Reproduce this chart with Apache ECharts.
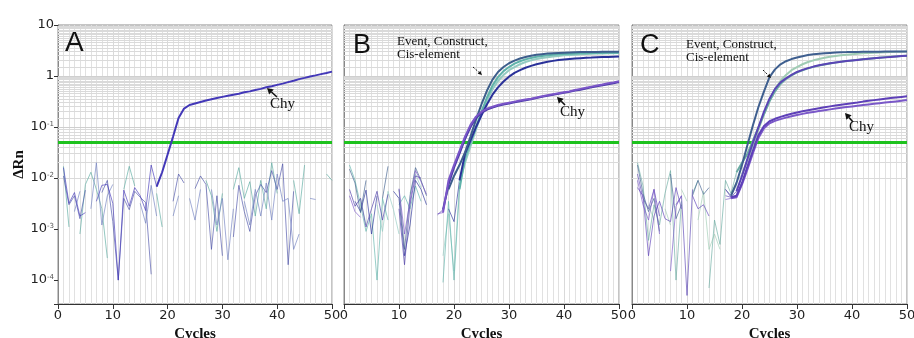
<!DOCTYPE html>
<html><head><meta charset="utf-8">
<script src="https://cdn.jsdelivr.net/npm/echarts@6/dist/echarts.min.js"></script>
<style>html,body{margin:0;padding:0;background:#fff}#c{width:914px;height:338px}</style>
</head><body><div id="c"></div>
<script>
// ---------- data ----------
const CYCLES = Array.from({length: 50}, (_, i) => i + 1);
const X_TICKS = [0, 10, 20, 30, 40, 50];
const Y_MIN = 3.4e-5, Y_MAX = 10;
const THRESHOLD = 0.048;
const PANEL_LABELS = ['A', 'B', 'C'];

// Panel A
const A_CHY = [0.016,0.0032,0.0052,0.0018,0.0021,null,0.0035,0.0072,0.0075,0.0032,
  0.0001,0.0058,0.0028,0.0065,0.0045,0.0023,0.018,0.0068,0.013,0.029,
  0.065,0.15,0.23,0.27,0.29,0.31,0.33,0.35,0.37,0.39,
  0.41,0.43,0.45,0.48,0.5,0.53,0.56,0.6,0.63,0.67,
  0.71,0.76,0.81,0.87,0.92,0.98,1.03,1.09,1.15,1.22];
const A_NEG1 = [0.017,0.0011,null,0.0008,0.0075,0.013,0.006,0.0025,0.00027,null,
  null,0.006,0.017,0.007,null,null,null,0.005,0.0011,null,
  null,null,null,null,0.0012,null,0.009,0.0045,0.0009,0.005,
  null,0.006,0.016,0.004,0.0085,0.0018,0.009,0.0025,0.02,0.005,
  null,null,0.009,0.002,0.018,null,null,null,0.012,0.009];
const A_NEG2 = [0.011,0.003,0.0045,0.0016,0.0058,null,null,0.0052,0.009,0.0014,
  0.0001,0.004,0.0024,0.0055,0.0042,0.0033,0.00013,null,null,null,
  0.0035,0.012,0.008,null,0.0062,0.011,0.0075,0.0004,0.0045,0.0003,
  null,0.0007,0.0072,0.0022,0.0009,0.0045,0.0075,0.0052,0.014,0.006,
  0.019,0.0002,0.0055,null,null,null,0.0016,null,null,null];
const A_NEG3 = [null,null,0.0022,0.0055,null,0.0025,0.02,0.0012,0.0045,0.0075,
  null,null,null,null,0.0032,0.0013,0.0072,0.0018,null,null,
  0.0018,0.0045,null,0.004,0.0015,0.006,null,0.006,0.0012,0.004,
  0.00025,0.0025,null,0.0035,0.0012,0.006,0.0018,0.008,0.0015,0.012,
  0.0035,0.004,0.0004,0.0008,null,0.004,0.0038,null,null,null];

// Panel B
const B_S1 = [0.015,0.008,0.0021,0.009,null,null,0.004,0.017,null,0.006,
  0.0004,0.0045,0.016,0.009,0.0045,null,null,
  0.0025,0.006,0.011,0.018,0.032,0.065,0.14,0.28,0.52,0.85,1.2,1.5,1.78,
  2.0,2.2,2.36,2.5,2.6,2.68,2.75,2.8,2.84,2.87,2.9,2.92,2.94,2.95,2.96,2.97,2.98,2.99,3.0,3.0];
const B_S2 = [0.018,0.009,0.003,0.0009,0.002,0.0001,0.004,0.0015,null,0.003,
  0.0045,0.0025,0.007,0.0035,null,null,null,0.00009,0.0035,0.0001,0.006,
  0.025,0.05,0.1,0.2,0.38,0.65,0.95,1.25,1.5,1.75,1.95,2.12,2.26,2.38,2.48,2.56,2.62,2.67,2.71,
  2.74,2.76,2.78,2.8,2.82,2.83,2.84,2.85,2.86,2.87];
const B_S3 = [null,0.0035,0.0022,0.0058,0.0008,0.0045,null,null,0.0055,0.004,
  0.0003,0.0012,0.009,0.006,0.003,null,null,null,0.0025,0.0014,0.009,
  0.03,0.055,0.1,0.17,0.28,0.43,0.6,0.78,0.97,1.15,1.3,1.45,1.58,1.7,1.8,1.9,1.98,2.05,2.1,
  2.15,2.2,2.24,2.28,2.3,2.33,2.35,2.37,2.39,2.4];
const B_S4 = [0.0045,null,0.004,0.0012,null,0.003,0.0009,0.0055,0.0024,0.0008,
  null,0.005,0.012,0.0065,null,null,null,0.0003,0.002,0.00015,0.008,
  0.02,0.042,0.09,0.18,0.33,0.55,0.8,1.05,1.3,1.5,1.7,1.88,2.03,2.15,2.25,2.34,2.42,2.48,2.54,
  2.58,2.62,2.66,2.69,2.72,2.75,2.77,2.79,2.81,2.83];
const B_CHY1 = [0.0045,0.0022,0.0017,null,null,null,null,null,null,0.0062,
  0.0008,0.0035,0.014,0.0085,0.0048,null,
  0.002,0.0021,0.009,0.018,0.034,0.065,0.11,0.16,0.2,0.23,0.25,0.27,0.285,0.3,
  0.315,0.33,0.345,0.36,0.38,0.4,0.42,0.44,0.46,0.48,0.5,0.53,0.56,0.59,0.62,0.65,0.68,0.72,0.75,0.79];
const B_CHY2 = [0.006,0.0028,0.004,0.0011,0.0025,0.0055,0.0015,0.0048,null,0.0025,
  0.0002,0.003,0.011,0.01,null,null,
  0.0019,0.0024,0.0075,0.016,0.03,0.058,0.1,0.15,0.19,0.22,0.24,0.26,0.275,0.29,
  0.305,0.32,0.335,0.35,0.37,0.39,0.41,0.43,0.45,0.47,0.49,0.52,0.54,0.57,0.6,0.63,0.66,0.69,0.72,0.76];

// Panel C
const C_S1 = [0.018,0.005,0.0022,0.004,0.0009,null,0.012,0.0016,0.003,null,
  0.0045,0.009,0.0048,0.0065,null,null,0.006,0.0045,
  0.008,0.018,0.045,0.11,0.25,0.5,0.95,1.35,1.7,1.95,2.15,2.3,2.45,2.57,2.66,2.73,2.79,2.84,
  2.88,2.91,2.94,2.96,2.97,2.98,2.99,3.0,3.0,3.01,3.01,3.02,3.02,3.02];
const C_S2 = [0.012,0.004,0.0025,0.006,0.0018,null,null,0.003,0.0045,0.00005,
  0.006,null,null,null,null,null,0.0045,0.0042,0.0055,
  0.011,0.024,0.05,0.1,0.2,0.36,0.56,0.75,0.9,1.05,1.2,1.32,1.43,1.53,1.62,1.7,1.78,1.85,1.91,1.97,
  2.02,2.07,2.12,2.17,2.22,2.27,2.32,2.37,2.42,2.46,2.5];
const C_S3 = [0.02,0.007,0.0006,0.003,0.0012,0.005,0.014,0.0001,0.0035,null,
  0.005,0.009,null,0.00007,0.0015,0.0005,0.009,0.005,0.013,
  0.02,0.03,0.055,0.1,0.18,0.32,0.5,0.7,0.88,1.03,1.18,1.3,1.41,1.51,1.6,1.68,1.76,1.83,1.9,1.96,
  2.02,2.08,2.13,2.18,2.23,2.28,2.33,2.38,2.42,2.46,2.5];
const C_S4 = [0.008,null,0.003,0.0015,null,0.0025,0.0012,null,0.006,0.0035,
  null,0.0015,0.0055,0.0004,0.0008,0.0004,null,0.005,0.0085,0.012,
  0.022,0.045,0.09,0.18,0.33,0.55,0.8,1.05,1.3,1.5,1.7,1.88,2.03,2.16,2.28,2.38,2.47,2.55,2.62,2.68,
  2.73,2.78,2.82,2.86,2.9,2.93,2.96,2.98,3.0,3.01];
const C_CHY1 = [0.0065,0.0045,0.0003,0.0018,0.0035,0.0016,0.0014,0.0065,0.0025,null,
  0.0045,0.0025,0.003,0.0018,null,null,0.006,
  0.0042,0.0045,0.008,0.017,0.035,0.07,0.105,0.13,0.145,0.158,0.17,0.182,0.193,0.204,0.214,0.224,
  0.234,0.244,0.254,0.264,0.274,0.284,0.294,0.304,0.315,0.326,0.337,0.348,0.359,0.37,0.38,0.39,0.4];
const C_CHY2 = [0.009,0.003,0.0015,0.006,0.0008,null,0.00015,0.0028,0.0045,null,
  0.0035,null,0.0022,null,null,null,0.0038,
  0.004,0.0042,0.0075,0.015,0.031,0.062,0.095,0.118,0.132,0.143,0.153,0.163,0.172,0.181,0.19,0.198,
  0.206,0.214,0.222,0.23,0.238,0.246,0.254,0.262,0.27,0.278,0.286,0.294,0.302,0.31,0.318,0.326,0.34];

// ---------- chart ----------
const SAMPLES = [
  // [panel, data, color, cycle where amplification starts]
  [0, A_NEG1, '#5aaaa0', 51], [0, A_NEG2, '#4a50a8', 51], [0, A_NEG3, '#7080c0', 51],
  [0, A_CHY, '#4338b8', 18],
  [1, B_S4, '#93cbc2', 21], [1, B_S2, '#5fb3aa', 21], [1, B_S3, '#2a3199', 21], [1, B_S1, '#3d5e8c', 19],
  [1, B_CHY2, '#4b3aa8', 18], [1, B_CHY1, '#7a55c8', 18],
  [2, C_S4, '#a0ccb4', 20], [2, C_S3, '#6aaca2', 19], [2, C_S2, '#5a45b5', 19], [2, C_S1, '#3f5f8f', 18],
  [2, C_CHY2, '#7a58c8', 18], [2, C_CHY1, '#5e40b8', 18]
];

const GRIDS = [
  {left: 58, top: 25, width: 274, height: 279},
  {left: 344, top: 25, width: 275, height: 279},
  {left: 632, top: 25, width: 275, height: 279}
];

// dense horizontal grid (software-style background)
const HLINES = [];
for (let n = -5; n <= 0; n++) {
  for (let m = 1; m < 10; m += 0.5) {
    const v = m * Math.pow(10, n);
    if (v > Y_MIN && v < Y_MAX) HLINES.push({v, major: m === 1});
  }
}

function yLabel(v) {
  const l = Math.log10(v), e = Math.round(l);
  if (Math.abs(l - e) > 0.01) return '';
  if (e === 1) return '10';
  if (e === 0) return '1';
  return '{b|10}{s|' + e + '}';
}

const xAxes = [], yAxes = [], series = [];
GRIDS.forEach((g, i) => {
  xAxes.push({
    type: 'value', gridIndex: i, min: 0, max: 50, interval: 10, z: 0,
    axisLine: {show: true, onZero: false, lineStyle: {color: '#333', width: 1}},
    axisTick: {show: true, length: 5, lineStyle: {color: '#333'}},
    axisLabel: {fontFamily: 'DejaVu Sans', fontSize: 13, color: '#222', margin: 5,
      formatter: v => X_TICKS.includes(v) ? String(v) : ''},
    splitLine: {show: true, lineStyle: {color: '#d9d9d9'}},
    minorTick: {show: false, splitNumber: 10},
    minorSplitLine: {show: true, lineStyle: {color: '#e1e1e1'}},
    name: 'Cycles', nameLocation: 'middle', nameGap: 21,
    nameTextStyle: {fontFamily: 'Liberation Serif', fontWeight: 'bold', fontSize: 15, color: '#111'}
  });
  yAxes.push({
    type: 'log', logBase: 10, gridIndex: i, min: Y_MIN, max: Y_MAX, z: 0,
    axisLine: {show: true, lineStyle: {color: '#888'}},
    axisTick: {show: i === 0, length: 4, lineStyle: {color: '#333'}},
    axisLabel: {show: i === 0, margin: 4, formatter: yLabel, color: '#222',
      fontFamily: 'DejaVu Sans', fontSize: 13,
      rich: {b: {fontFamily: 'DejaVu Sans', fontSize: 13, color: '#222', verticalAlign: 'bottom'},
             s: {fontFamily: 'DejaVu Sans', fontSize: 7, color: '#555', verticalAlign: 'top'}}},
    splitLine: {show: false},
    name: i === 0 ? 'ΔRn' : '', nameLocation: 'middle', nameGap: 31,
    nameTextStyle: {fontFamily: 'Liberation Serif', fontWeight: 'bold', fontSize: 15, color: '#111'}
  });
  // background grid lines + threshold
  series.push({
    type: 'line', xAxisIndex: i, yAxisIndex: i, data: [], z: 1, silent: true,
    markLine: {
      silent: true, symbol: ['none', 'none'], animation: false, label: {show: false},
      data: HLINES.map(h => ({yAxis: h.v, lineStyle: {color: h.major ? '#cfcfcf' : '#dadada', width: 1, type: 'solid'}}))
        .concat([{yAxis: THRESHOLD, lineStyle: {color: '#1ec21e', width: 3, type: 'solid'}}])
    }
  });
});

SAMPLES.forEach(([p, data, color, start]) => {
  const pts = CYCLES.map((c, k) => [c, data[k]]);
  series.push({
    type: 'line', xAxisIndex: p, yAxisIndex: p, z: 10, symbol: 'none', silent: true,
    data: pts.filter(d => d[0] <= start), connectNulls: false,
    lineStyle: {color, width: 1, opacity: 0.65}
  });
  if (start <= 50) series.push({
    type: 'line', xAxisIndex: p, yAxisIndex: p, z: 11, symbol: 'none', silent: true,
    data: pts.filter(d => d[0] >= start), connectNulls: false,
    lineStyle: {color, width: 2}
  });
});

function arrow(x1, y1, x2, y2, dash) {
  const dx = x2 - x1, dy = y2 - y1, L = Math.hypot(dx, dy), ux = dx / L, uy = dy / L;
  const hl = dash ? 4 : 6, hw = dash ? 2 : 3.5;
  const bx = x2 - ux * hl, by = y2 - uy * hl;
  return [
    {type: 'line', z: 100, shape: {x1, y1, x2: bx, y2: by},
     style: {stroke: '#111', lineWidth: dash ? 1 : 1.6, lineDash: dash ? [2, 1.5] : null}},
    {type: 'polygon', z: 100, shape: {points: [[x2, y2], [bx - uy * hw, by + ux * hw], [bx + uy * hw, by - ux * hw]]},
     style: {fill: '#111'}}
  ];
}
const serif = 'Liberation Serif';
const graphic = [
  {type: 'text', left: 65, top: 29, z: 100, style: {text: PANEL_LABELS[0], font: '28px "Liberation Sans"', fill: '#111'}},
  {type: 'text', left: 353, top: 32, z: 100, style: {text: PANEL_LABELS[1], font: '27px "Liberation Sans"', fill: '#111'}},
  {type: 'text', left: 640, top: 32, z: 100, style: {text: PANEL_LABELS[2], font: '27px "Liberation Sans"', fill: '#111'}},
  {type: 'text', left: 397, top: 35, z: 100, style: {text: 'Event, Construct,\nCis-element', font: '13px "' + serif + '"', lineHeight: 13, fill: '#111'}},
  {type: 'text', left: 686, top: 38, z: 100, style: {text: 'Event, Construct,\nCis-element', font: '13px "' + serif + '"', lineHeight: 13, fill: '#111'}},
  {type: 'text', left: 270, top: 97, z: 100, style: {text: 'Chy', font: '15px "' + serif + '"', fill: '#111'}},
  {type: 'text', left: 560, top: 105, z: 100, style: {text: 'Chy', font: '15px "' + serif + '"', fill: '#111'}},
  {type: 'text', left: 849, top: 120, z: 100, style: {text: 'Chy', font: '15px "' + serif + '"', fill: '#111'}}
].concat(arrow(277, 97, 267, 88), arrow(565, 105, 557, 97), arrow(853, 122, 845, 113),
         arrow(473, 67, 482, 75, true), arrow(763, 70, 771, 78, true));

const chart = echarts.init(document.getElementById('c'), null, {renderer: 'canvas'});
chart.setOption({
  animation: false,
  backgroundColor: '#fff',
  grid: GRIDS.map(g => Object.assign({show: true, borderColor: '#8a8a8a', borderWidth: 1,
    backgroundColor: '#fff', outerBoundsMode: 'none', containLabel: false}, g)),
  xAxis: xAxes, yAxis: yAxes, series, graphic
});
</script></body></html>
